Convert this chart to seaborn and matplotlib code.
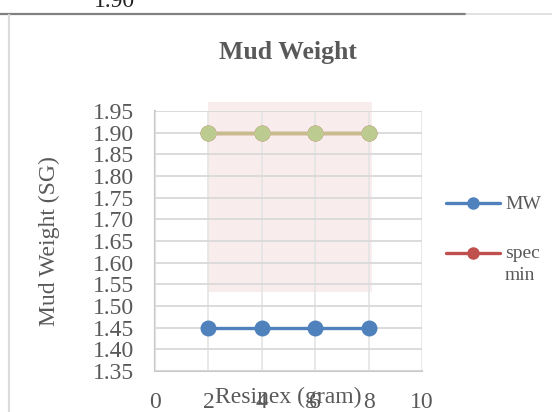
import matplotlib
matplotlib.use("Agg")
import matplotlib.pyplot as plt
from matplotlib.lines import Line2D
import seaborn as sns
import pandas as pd

# ---- data ----
resinex = [2, 4, 6, 8]
mw = [1.45, 1.45, 1.45, 1.45]
spec_min = [1.90, 1.90, 1.90, 1.90]
spec_max = [1.90, 1.90, 1.90, 1.90]
band_x = [2.0, 8.13]
band_low = [1.532, 1.532]
band_high = [1.971, 1.971]
x_ticks = [0, 2, 4, 6, 8, 10]
y_ticks = [1.35, 1.40, 1.45, 1.50, 1.55, 1.60, 1.65, 1.70, 1.75, 1.80, 1.85, 1.90, 1.95]

sns.set_theme(style="white")
plt.rcParams['font.family'] = ['Liberation Serif', 'DejaVu Serif']

W, H = 552, 412
fig = plt.figure(figsize=(W / 100, H / 100), dpi=100)
ax = fig.add_axes([155 / W, 1 - 371 / H, 267 / W, 260 / H])

txt = '#595959'
grid = '#d9d9d9'

df_mw = pd.DataFrame({'x': resinex, 'y': mw})
df_min = pd.DataFrame({'x': resinex, 'y': spec_min})
df_max = pd.DataFrame({'x': resinex, 'y': spec_max})

ax.fill_between(band_x, band_low, band_high, color='#c0504d', alpha=0.1,
                linewidth=0, zorder=0.8, clip_on=False)

sns.lineplot(data=df_min, x='x', y='y', ax=ax, color='#c0504d', marker='o',
             markersize=11.5, markeredgewidth=0, linewidth=2.4, zorder=3)
sns.lineplot(data=df_max, x='x', y='y', ax=ax, color='#c6bd8c', marker='o',
             markersize=11.5, markeredgewidth=0, markerfacecolor='#bccb8f',
             linewidth=2.4, zorder=4)
sns.lineplot(data=df_mw, x='x', y='y', ax=ax, color='#4f81bd', marker='o',
             markersize=11.5, markeredgewidth=0, linewidth=2.4, zorder=4)

ax.set_xlim(0, 10)
ax.set_ylim(1.35, 1.95)
ax.set_xticks(x_ticks)
ax.set_xticklabels([str(v) for v in x_ticks])
ax.set_yticks(y_ticks)
ax.set_yticklabels([f"{v:.2f}" for v in y_ticks])
ax.tick_params(axis='both', length=0, labelsize=17, labelcolor=txt)
ax.tick_params(axis='x', pad=15)
ax.tick_params(axis='y', pad=15)

ax.set_axisbelow(False)
ax.yaxis.grid(True, color=grid, linewidth=1.3, zorder=1)
ax.xaxis.grid(True, color='#e6e6e6', linewidth=1.3, zorder=0.5)
for s in ['top', 'right']:
    ax.spines[s].set_visible(False)
for s in ['left', 'bottom']:
    ax.spines[s].set_color('#c8c8c8')
    ax.spines[s].set_linewidth(1.5)
    ax.spines[s].set_zorder(1)

ax.set_xlabel('Resinex (gram)', fontsize=17, color=txt, labelpad=-19)
ax.set_ylabel('Mud Weight (SG)', fontsize=17, color=txt, labelpad=24)
fig.text(288 / W, 1 - 52 / H, 'Mud Weight', fontsize=18.5, fontweight='bold',
         color=txt, ha='center', va='center')

# legend (Excel style, wrapped label)
for yc, col in [(203, '#4f81bd'), (253, '#c0504d')]:
    fig.add_artist(Line2D([446 / W, 500 / W], [1 - yc / H, 1 - yc / H], color=col,
                          linewidth=2.4))
    fig.add_artist(Line2D([473 / W], [1 - yc / H], color=col, marker='o',
                          markersize=9, markeredgewidth=0, linestyle='none'))
fig.text(505 / W, 1 - 209 / H, 'MW', fontsize=14, color=txt, va='baseline', ha='left')
fig.text(505 / W, 1 - 258 / H, 'spec', fontsize=14, color=txt, va='baseline', ha='left')
fig.text(505 / W, 1 - 280 / H, 'min', fontsize=14, color=txt, va='baseline', ha='left')

# outer frame fragments
fig.add_artist(Line2D([0, 466 / W], [1 - 14 / H, 1 - 14 / H], color='#808080', linewidth=1.6))
fig.add_artist(Line2D([466 / W, 1], [1 - 14 / H, 1 - 14 / H], color='#dcdcdc', linewidth=1.2))
fig.add_artist(Line2D([9 / W, 9 / W], [0, 1 - 15 / H], color='#dcdcdc', linewidth=1.6))
fig.text(114 / W, 1 - 7 / H, '1.90', fontsize=17, color='#222222', ha='center',
         va='baseline')

fig.savefig('out.png', dpi=100)
